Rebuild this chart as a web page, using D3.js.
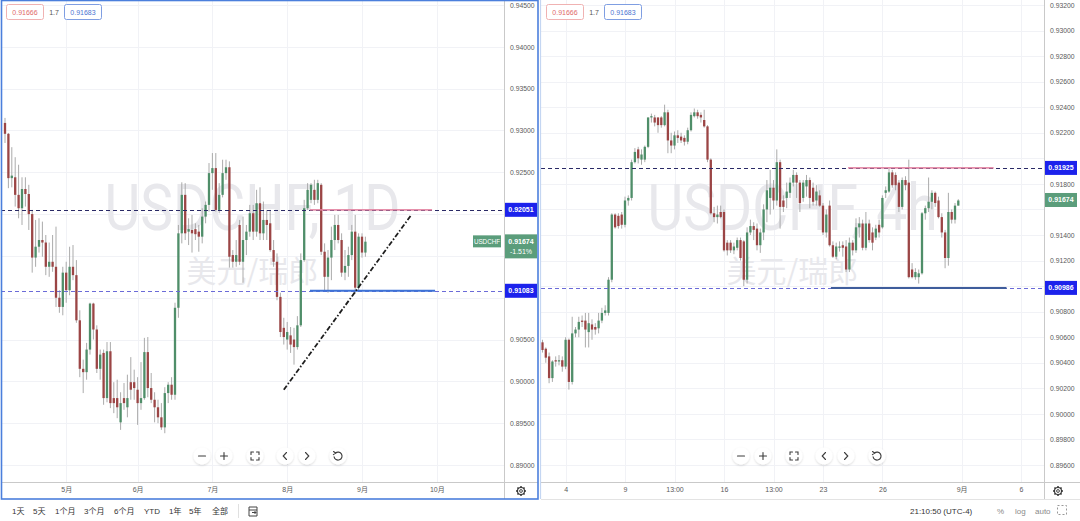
<!DOCTYPE html>
<html><head><meta charset="utf-8">
<script src="https://cdn.jsdelivr.net/npm/d3@7"></script>
<style>html,body{margin:0;padding:0;background:#fff;}svg{display:block;}</style>
</head><body>
<svg id="c" width="1080" height="521"></svg>
<script>
// ---------------- DATA ----------------
// Daily USDCHF candles [open, high, low, close]
const dailyCandles = [
[0.9309,0.9315,0.9285,0.9296],[0.9296,0.9297,0.9231,0.9243],[0.9243,0.9280,0.9232,0.9246],[0.9244,0.9268,0.9209,0.9223],
[0.9223,0.9259,0.9195,0.9207],[0.9207,0.9244,0.9187,0.9230],[0.9230,0.9244,0.9209,0.9224],[0.9224,0.9235,0.9181,0.9200],
[0.9200,0.9205,0.9130,0.9148],[0.9148,0.9193,0.9137,0.9161],[0.9161,0.9195,0.9154,0.9169],[0.9169,0.9191,0.9149,0.9166],
[0.9166,0.9175,0.9127,0.9137],[0.9137,0.9166,0.9125,0.9143],[0.9143,0.9175,0.9131,0.9137],[0.9137,0.9185,0.9089,0.9100],
[0.9100,0.9109,0.9082,0.9089],[0.9089,0.9137,0.9079,0.9130],[0.9130,0.9143,0.9094,0.9109],[0.9109,0.9161,0.9103,0.9137],
[0.9137,0.9163,0.9121,0.9127],[0.9127,0.9145,0.9070,0.9073],[0.9073,0.9085,0.9005,0.9015],[0.9015,0.9026,0.8986,0.9011],
[0.9011,0.9046,0.9002,0.9038],[0.9038,0.9094,0.9032,0.9093],[0.9093,0.9094,0.9050,0.9062],[0.9062,0.9067,0.9010,0.9015],
[0.9015,0.9038,0.9002,0.9032],[0.9034,0.9038,0.8972,0.8980],[0.8980,0.9047,0.8975,0.9036],[0.9036,0.9047,0.8968,0.8974],
[0.8980,0.8999,0.8962,0.8974],[0.8980,0.9002,0.8956,0.8969],[0.8951,0.8987,0.8942,0.8974],[0.8980,0.8998,0.8966,0.8974],
[0.8969,0.9008,0.8957,0.8980],[0.8999,0.9029,0.8978,0.8990],[0.8999,0.9014,0.8978,0.8992],[0.8990,0.9005,0.8948,0.8974],
[0.8974,0.9023,0.8966,0.8980],[0.8980,0.9052,0.8978,0.9035],[0.9035,0.9053,0.8981,0.8992],[0.8992,0.9010,0.8974,0.8978],
[0.8978,0.8987,0.8951,0.8969],[0.8969,0.8978,0.8950,0.8957],[0.8957,0.8974,0.8942,0.8945],[0.8945,0.8993,0.8938,0.8986],
[0.8986,0.8999,0.8974,0.8996],[0.8996,0.9005,0.8978,0.8984],[0.8984,0.9094,0.8978,0.9088],[0.9088,0.9187,0.9076,0.9177],
[0.9177,0.9238,0.9165,0.9223],[0.9223,0.9237,0.9169,0.9177],[0.9179,0.9195,0.9163,0.9182],[0.9181,0.9199,0.9154,0.9177],
[0.9182,0.9189,0.9169,0.9176],[0.9179,0.9187,0.9155,0.9173],[0.9173,0.9207,0.9165,0.9197],[0.9197,0.9215,0.9189,0.9211],
[0.9211,0.9261,0.9203,0.9249],[0.9249,0.9273,0.9229,0.9255],[0.9255,0.9273,0.9203,0.9205],[0.9205,0.9237,0.9201,0.9223],
[0.9223,0.9265,0.9220,0.9249],[0.9249,0.9265,0.9241,0.9256],[0.9256,0.9263,0.9136,0.9149],[0.9151,0.9157,0.9136,0.9143],
[0.9143,0.9169,0.9137,0.9151],[0.9187,0.9193,0.9139,0.9143],[0.9143,0.9197,0.9118,0.9169],[0.9169,0.9187,0.9151,0.9179],
[0.9179,0.9211,0.9173,0.9201],[0.9201,0.9211,0.9169,0.9179],[0.9179,0.9229,0.9173,0.9213],[0.9213,0.9232,0.9169,0.9177],
[0.9177,0.9215,0.9169,0.9193],[0.9193,0.9205,0.9169,0.9187],[0.9189,0.9205,0.9155,0.9157],[0.9157,0.9169,0.9137,0.9143],
[0.9143,0.9153,0.9097,0.9101],[0.9101,0.9106,0.9053,0.9059],[0.9064,0.9076,0.9044,0.9053],[0.9050,0.9071,0.9038,0.9059],
[0.9055,0.9065,0.9034,0.9044],[0.9050,0.9064,0.9020,0.9041],[0.9041,0.9078,0.9038,0.9067],[0.9067,0.9153,0.9065,0.9145],
[0.9145,0.9217,0.9143,0.9207],[0.9207,0.9237,0.9205,0.9229],[0.9217,0.9237,0.9213,0.9235],[0.9229,0.9241,0.9211,0.9217],
[0.9217,0.9241,0.9213,0.9237],[0.9235,0.9237,0.9151,0.9155],[0.9155,0.9165,0.9109,0.9125],[0.9125,0.9157,0.9106,0.9148],
[0.9148,0.9185,0.9121,0.9169],[0.9169,0.9199,0.9157,0.9187],[0.9187,0.9199,0.9165,0.9169],[0.9169,0.9177,0.9125,0.9130],
[0.9130,0.9157,0.9121,0.9138],[0.9138,0.9161,0.9125,0.9151],[0.9151,0.9187,0.9145,0.9179],[0.9179,0.9199,0.9105,0.9112],
[0.9112,0.9177,0.9107,0.9173],[0.9173,0.9177,0.9148,0.9154],[0.9154,0.9173,0.9149,0.9167]
];
const dailyTickIndex = [18, 39, 61, 83, 105, 127];
const dailyTickLabels = ["5月", "6月", "7月", "8月", "9月", "10月"];
const dailyPriceTicks = [0.890,0.895,0.900,0.905,0.910,0.915,0.920,0.925,0.930,0.935,0.940,0.945];
const dailyLevels = [0.92051, 0.91083];           // resistance, support
const dailySegResist = [89.7, 125.6];              // bar index span of pink line
const dailySegSupport = [89.7, 126.5];             // bar index span of blue line
const dailyTrend = [[82, 0.8990], [119.5, 0.9199]]; // [bar index, price]

// 4h USDCHF candles [open, high, low, close]
const h4Candles = [
[0.9056,0.9058,0.9048,0.9050],[0.9051,0.9052,0.9040,0.9044],[0.9045,0.9048,0.9024,0.9028],[0.9028,0.9042,0.9025,0.9041],
[0.9042,0.9045,0.9037,0.9041],[0.9041,0.9046,0.9038,0.9042],[0.9042,0.9045,0.9033,0.9037],[0.9037,0.9060,0.9035,0.9058],
[0.9058,0.9059,0.9019,0.9025],[0.9025,0.9076,0.9023,0.9063],[0.9063,0.9068,0.9060,0.9066],[0.9066,0.9076,0.9060,0.9072],
[0.9073,0.9077,0.9068,0.9072],[0.9073,0.9079,0.9052,0.9066],[0.9064,0.9079,0.9052,0.9071],[0.9070,0.9074,0.9058,0.9066],
[0.9068,0.9071,0.9062,0.9066],[0.9067,0.9079,0.9063,0.9073],[0.9073,0.9083,0.9071,0.9079],[0.9079,0.9085,0.9077,0.9081],
[0.9079,0.9107,0.9077,0.9105],[0.9105,0.9157,0.9103,0.9156],[0.9156,0.9157,0.9145,0.9146],[0.9155,0.9157,0.9145,0.9147],
[0.9156,0.9158,0.9145,0.9148],[0.9148,0.9170,0.9146,0.9167],[0.9167,0.9171,0.9163,0.9169],[0.9169,0.9199,0.9167,0.9197],
[0.9197,0.9208,0.9196,0.9205],[0.9207,0.9209,0.9196,0.9200],[0.9199,0.9207,0.9195,0.9203],[0.9199,0.9210,0.9197,0.9209],
[0.9209,0.9232,0.9208,0.9232],[0.9232,0.9235,0.9228,0.9233],[0.9232,0.9234,0.9225,0.9228],[0.9232,0.9232,0.9220,0.9226],
[0.9232,0.9233,0.9224,0.9226],[0.9226,0.9242,0.9225,0.9236],[0.9236,0.9238,0.9204,0.9214],[0.9214,0.9220,0.9204,0.9210],
[0.9210,0.9221,0.9207,0.9218],[0.9218,0.9222,0.9212,0.9216],[0.9217,0.9220,0.9212,0.9214],[0.9216,0.9218,0.9210,0.9213],
[0.9213,0.9224,0.9211,0.9222],[0.9222,0.9236,0.9221,0.9234],[0.9233,0.9239,0.9232,0.9236],[0.9236,0.9238,0.9231,0.9233],
[0.9234,0.9236,0.9228,0.9232],[0.9230,0.9238,0.9224,0.9225],[0.9225,0.9226,0.9197,0.9199],[0.9199,0.9200,0.9156,0.9157],
[0.9157,0.9162,0.9150,0.9154],[0.9154,0.9163,0.9149,0.9156],[0.9158,0.9163,0.9153,0.9154],[0.9158,0.9160,0.9127,0.9128],
[0.9134,0.9136,0.9124,0.9128],[0.9134,0.9136,0.9126,0.9128],[0.9128,0.9134,0.9125,0.9131],[0.9130,0.9138,0.9128,0.9136],
[0.9136,0.9138,0.9120,0.9122],[0.9135,0.9136,0.9100,0.9105],[0.9105,0.9146,0.9102,0.9142],[0.9142,0.9152,0.9140,0.9147],
[0.9147,0.9150,0.9136,0.9144],[0.9145,0.9149,0.9128,0.9132],[0.9132,0.9145,0.9126,0.9142],[0.9142,0.9164,0.9136,0.9160],
[0.9160,0.9183,0.9150,0.9175],[0.9169,0.9191,0.9156,0.9177],[0.9177,0.9183,0.9160,0.9167],[0.9167,0.9207,0.9163,0.9197],
[0.9197,0.9199,0.9145,0.9162],[0.9167,0.9171,0.9158,0.9162],[0.9169,0.9181,0.9161,0.9174],[0.9173,0.9185,0.9169,0.9181],
[0.9181,0.9191,0.9178,0.9187],[0.9187,0.9189,0.9169,0.9181],[0.9181,0.9183,0.9158,0.9165],[0.9169,0.9183,0.9166,0.9181],
[0.9178,0.9187,0.9170,0.9183],[0.9183,0.9185,0.9161,0.9169],[0.9177,0.9181,0.9163,0.9166],[0.9167,0.9179,0.9163,0.9174],
[0.9171,0.9175,0.9162,0.9163],[0.9163,0.9165,0.9140,0.9142],[0.9142,0.9160,0.9138,0.9156],[0.9163,0.9167,0.9131,0.9132],
[0.9132,0.9135,0.9122,0.9123],[0.9123,0.9134,0.9121,0.9131],[0.9130,0.9135,0.9127,0.9131],[0.9132,0.9135,0.9123,0.9130],
[0.9131,0.9136,0.9111,0.9113],[0.9113,0.9138,0.9111,0.9134],[0.9134,0.9136,0.9124,0.9128],[0.9128,0.9153,0.9126,0.9146],
[0.9146,0.9154,0.9138,0.9149],[0.9149,0.9152,0.9128,0.9130],[0.9130,0.9158,0.9128,0.9149],[0.9149,0.9152,0.9134,0.9136],
[0.9142,0.9146,0.9128,0.9134],[0.9138,0.9148,0.9136,0.9145],[0.9148,0.9152,0.9138,0.9142],[0.9146,0.9171,0.9145,0.9169],
[0.9173,0.9178,0.9169,0.9175],[0.9174,0.9192,0.9173,0.9189],[0.9189,0.9191,0.9177,0.9179],[0.9187,0.9189,0.9175,0.9179],
[0.9181,0.9183,0.9158,0.9162],[0.9162,0.9185,0.9160,0.9183],[0.9183,0.9186,0.9175,0.9179],[0.9181,0.9199,0.9106,0.9107],
[0.9113,0.9118,0.9106,0.9107],[0.9107,0.9114,0.9105,0.9111],[0.9107,0.9113,0.9102,0.9110],[0.9110,0.9158,0.9109,0.9157],
[0.9157,0.9163,0.9152,0.9161],[0.9161,0.9185,0.9158,0.9166],[0.9166,0.9175,0.9160,0.9173],[0.9173,0.9174,0.9162,0.9165],
[0.9167,0.9170,0.9153,0.9154],[0.9154,0.9157,0.9138,0.9142],[0.9142,0.9144,0.9114,0.9122],[0.9122,0.9173,0.9116,0.9158],
[0.9158,0.9160,0.9149,0.9152],[0.9152,0.9165,0.9149,0.9163],[0.9163,0.9168,0.9163,0.9167]
];
const h4TickIndex = [7, 25, 40, 55, 70, 85, 103, 127, 145];
const h4TickLabels = ["4", "9", "13:00", "16", "13:00", "23", "26", "9月", "6"];
const h4PriceTicks = [0.896,0.898,0.900,0.902,0.904,0.906,0.908,0.910,0.912,0.914,0.916,0.918,0.920,0.922,0.924,0.926,0.928,0.930,0.932];
const h4Levels = [0.91925, 0.90986];
const h4SegResist = [92.6, 136.7];
const h4SegSupport = [87.4, 140.6];

const lastPrice = 0.91674;
const changeText = "-1.51%";
const legendValues = ["0.91666", "1.7", "0.91683"];
const rangeButtons = ["1天", "5天", "1个月", "3个月", "6个月", "YTD", "1年", "5年", "全部"];

// ---------------- DRAWING ----------------
const FONT = "'Liberation Sans','Noto Sans CJK SC',Arial,sans-serif";
const CJK = "'Noto Sans CJK SC','Liberation Sans',sans-serif";
const GREEN = "#4f8e69", RED = "#9b4545", WICK = "#a2a2a2";
const svg = d3.select("#c");
const defs = svg.append("defs");
defs.append("filter").attr("id","sh").attr("x","-50%").attr("y","-50%").attr("width","200%").attr("height","200%")
  .append("feDropShadow").attr("dx",0).attr("dy",1).attr("stdDeviation",1.3)
  .attr("flood-color","#000").attr("flood-opacity",0.16);

function drawPanel(cfg) {
  const g = svg.append("g");
  const x = d3.scaleLinear().domain([0, 100]).range(cfg.xRange);
  const y = d3.scaleLinear().domain(cfg.yDomain).range(cfg.yRange);
  const {px0, px1, py0, py1} = cfg;
  defs.append("clipPath").attr("id", cfg.id + "clip").append("rect")
    .attr("x", px0).attr("y", py0).attr("width", px1 - px0).attr("height", py1 - py0);
  const plot = g.append("g").attr("clip-path", `url(#${cfg.id}clip)`);

  // grid
  plot.selectAll("line.hg").data(cfg.priceTicks).join("line").attr("class","hg")
    .attr("x1", px0).attr("x2", px1)
    .attr("y1", d => Math.round(y(d)) + 0.5).attr("y2", d => Math.round(y(d)) + 0.5)
    .attr("stroke", "#f1f2f6").attr("stroke-width", 1);
  plot.selectAll("line.vg").data(cfg.tickIndex).join("line").attr("class","vg")
    .attr("x1", d => Math.round(x(d)) + 0.5).attr("x2", d => Math.round(x(d)) + 0.5)
    .attr("y1", py0).attr("y2", py1)
    .attr("stroke", "#f1f2f6").attr("stroke-width", 1);

  // watermark
  const cx = (px0 + px1) / 2;
  plot.append("text").attr("x", cx).attr("y", 230).attr("text-anchor", "middle")
    .attr("font-family", "Roboto,'Liberation Sans',sans-serif").attr("font-size", 64)
    .attr("textLength", cfg.wmWidth).attr("lengthAdjust", "spacingAndGlyphs")
    .attr("fill", "#e8e8ec").text(cfg.watermark);
  plot.append("text").attr("x", cx).attr("y", 282).attr("text-anchor", "middle")
    .attr("font-family", CJK).attr("font-size", 30).attr("fill", "#e8e8ec").text("美元/瑞郎");

  // candles
  const bw = 2.3;
  plot.selectAll("line.wick").data(cfg.candles).join("line").attr("class","wick")
    .attr("x1", (d, i) => x(i)).attr("x2", (d, i) => x(i))
    .attr("y1", d => y(d[1])).attr("y2", d => y(d[2]))
    .attr("stroke", WICK).attr("stroke-width", 0.9);
  plot.selectAll("rect.body").data(cfg.candles).join("rect").attr("class","body")
    .attr("x", (d, i) => x(i) - bw / 2).attr("width", bw)
    .attr("y", d => y(Math.max(d[0], d[3])))
    .attr("height", d => Math.max(1, Math.abs(y(d[0]) - y(d[3]))))
    .attr("fill", d => d[3] >= d[0] ? GREEN : RED);

  // horizontal dashed levels
  const dashCol = ["#2a2a66", "#6b6bd8"];
  plot.selectAll("line.lvl").data(cfg.levels).join("line").attr("class","lvl")
    .attr("x1", px0).attr("x2", px1)
    .attr("y1", d => Math.round(y(d)) + 0.5).attr("y2", d => Math.round(y(d)) + 0.5)
    .attr("stroke", (d, i) => dashCol[i]).attr("stroke-width", 1).attr("stroke-dasharray", "4,3");
  // drawn segments
  plot.append("line").attr("x1", x(cfg.segResist[0])).attr("x2", x(cfg.segResist[1]))
    .attr("y1", y(cfg.levels[0])).attr("y2", y(cfg.levels[0]))
    .attr("stroke", "#e27d9c").attr("stroke-width", 1.6).attr("stroke-opacity", 0.85);
  plot.append("line").attr("x1", x(cfg.segSupport[0])).attr("x2", x(cfg.segSupport[1]))
    .attr("y1", y(cfg.levels[1])).attr("y2", y(cfg.levels[1]))
    .attr("stroke", cfg.supportColor).attr("stroke-width", 2);
  if (cfg.trend) {
    plot.append("line").attr("x1", x(cfg.trend[0][0])).attr("y1", y(cfg.trend[0][1]))
      .attr("x2", x(cfg.trend[1][0])).attr("y2", y(cfg.trend[1][1]))
      .attr("stroke", "#1e1e1e").attr("stroke-width", 1.8).attr("stroke-dasharray", "5,2,1.5,2");
  }

  // price axis: labels hidden where a price box covers them
  const covered = [];
  cfg.levels.forEach(v => covered.push([y(v) - 7, y(v) + 7]));
  covered.push([y(lastPrice) - 7, y(lastPrice) + (cfg.showChange ? 17 : 7)]);
  const visibleTicks = cfg.priceTicks.filter(t => {
    const yy = y(t);
    return !covered.some(([a, b]) => yy + 3.5 > a && yy - 3.5 < b);
  });
  const ya = g.append("g").attr("transform", `translate(${px1},0)`)
    .call(d3.axisRight(y).tickValues(visibleTicks).tickFormat(d3.format(".5f")).tickSize(0).tickPadding(6));
  ya.select(".domain").remove();
  ya.selectAll("text").attr("font-family", FONT).attr("font-size", 6.8).attr("fill", "#5a5a5a");
  // time axis
  const xa = g.append("g").attr("transform", `translate(0,${py1})`)
    .call(d3.axisBottom(x).tickValues(cfg.tickIndex).tickFormat((d, i) => cfg.tickLabels[i]).tickSize(0).tickPadding(5));
  xa.select(".domain").remove();
  xa.selectAll("text").attr("font-family", FONT).attr("font-size", 7).attr("fill", "#5a5a5a");

  // axis separators
  g.append("line").attr("x1", px1 + 0.5).attr("x2", px1 + 0.5).attr("y1", 0).attr("y2", 499)
    .attr("stroke", "#c9c9c9").attr("stroke-width", 1);
  g.append("line").attr("x1", px0).attr("x2", cfg.axisRight).attr("y1", py1 + 0.5).attr("y2", py1 + 0.5)
    .attr("stroke", "#c9c9c9").attr("stroke-width", 1);

  // level price boxes
  cfg.levels.forEach(v => {
    const yy = y(v);
    g.append("rect").attr("x", px1 + 1).attr("y", yy - 7).attr("width", 32).attr("height", 14).attr("fill", "#1c22ec");
    g.append("text").attr("x", px1 + 17).attr("y", yy + 2.5).attr("text-anchor", "middle")
      .attr("font-family", FONT).attr("font-size", 7).attr("font-weight", "bold").attr("fill", "#fff")
      .text(d3.format(".5f")(v));
  });
  // last price box
  const ly = y(lastPrice);
  const two = cfg.showChange;
  g.append("rect").attr("x", px1 + 1).attr("y", ly - 7).attr("width", 32).attr("height", two ? 24 : 14).attr("fill", "#5b9d7b");
  g.append("text").attr("x", px1 + 17).attr("y", ly + 2.5).attr("text-anchor", "middle")
    .attr("font-family", FONT).attr("font-size", 7).attr("font-weight", "bold").attr("fill", "#fff").text(d3.format(".5f")(lastPrice));
  if (two) {
    g.append("text").attr("x", px1 + 17).attr("y", ly + 12.5).attr("text-anchor", "middle")
      .attr("font-family", FONT).attr("font-size", 7).attr("fill", "#fff").text(changeText);
    g.append("rect").attr("x", px1 - 31).attr("y", ly - 6).attr("width", 28).attr("height", 12).attr("fill", "#5b9d7b");
    g.append("text").attr("x", px1 - 17).attr("y", ly + 2.3).attr("text-anchor", "middle")
      .attr("font-family", FONT).attr("font-size", 6.3).attr("fill", "#fff").text("USDCHF");
  }

  // legend
  const lx = px0 + 5;
  g.append("rect").attr("x", lx + 0.5).attr("y", 4.5).attr("width", 37).attr("height", 15).attr("rx", 2)
    .attr("fill", "#fff").attr("stroke", "#f0b2b2");
  g.append("text").attr("x", lx + 19).attr("y", 14.5).attr("text-anchor", "middle").attr("font-family", FONT)
    .attr("font-size", 7).attr("fill", "#e06a6a").text(legendValues[0]);
  g.append("text").attr("x", lx + 48).attr("y", 14.5).attr("text-anchor", "middle").attr("font-family", FONT)
    .attr("font-size", 7).attr("fill", "#555").text(legendValues[1]);
  g.append("rect").attr("x", lx + 58.5).attr("y", 4.5).attr("width", 37).attr("height", 15).attr("rx", 2)
    .attr("fill", "#fff").attr("stroke", "#7f9ee2");
  g.append("text").attr("x", lx + 77).attr("y", 14.5).attr("text-anchor", "middle").attr("font-family", FONT)
    .attr("font-size", 7).attr("fill", "#4b74d2").text(legendValues[2]);

  // navigation buttons
  const bx = cfg.buttons, by = 456;
  const bg = g.append("g").attr("stroke", "#3c3c3c").attr("stroke-width", 1.1).attr("fill", "none").attr("stroke-linecap", "round");
  bx.forEach(b => bg.append("circle").attr("cx", b).attr("cy", by).attr("r", 8.5)
    .attr("fill", "#fff").attr("stroke", "none").attr("filter", "url(#sh)"));
  bg.append("path").attr("d", `M${bx[0]-3.5},${by}H${bx[0]+3.5}`);
  bg.append("path").attr("d", `M${bx[1]-3.5},${by}H${bx[1]+3.5}M${bx[1]},${by-3.5}V${by+3.5}`);
  const f = bx[2];
  bg.append("path").attr("d",
    `M${f-4},${by-1.5}V${by-4}H${f-1.5}M${f+1.5},${by-4}H${f+4}V${by-1.5}M${f+4},${by+1.5}V${by+4}H${f+1.5}M${f-1.5},${by+4}H${f-4}V${by+1.5}`);
  bg.append("path").attr("d", `M${bx[3]+1.5},${by-3.5}L${bx[3]-1.8},${by}L${bx[3]+1.5},${by+3.5}`);
  bg.append("path").attr("d", `M${bx[4]-1.5},${by-3.5}L${bx[4]+1.8},${by}L${bx[4]-1.5},${by+3.5}`);
  const r = bx[5];
  bg.append("path").attr("d", `M${r-2.5},${by-3}A4,4 0 1 1 ${r-3.9},${by+0.8}`);
  bg.append("path").attr("d", `M${r-4.5},${by-4.5}L${r-2.3},${by-2.9}L${r-4.6},${by-1.4}`);

  // gear
  const gx = cfg.gear, gy = 491;
  const gg = g.append("g").attr("stroke", "#333").attr("fill", "none");
  d3.range(8).forEach(k => {
    const a = k * Math.PI / 4;
    gg.append("line").attr("x1", gx + 3.3 * Math.cos(a)).attr("y1", gy + 3.3 * Math.sin(a))
      .attr("x2", gx + 5 * Math.cos(a)).attr("y2", gy + 5 * Math.sin(a)).attr("stroke-width", 1.5);
  });
  gg.append("circle").attr("cx", gx).attr("cy", gy).attr("r", 3.5).attr("fill", "#fff").attr("stroke-width", 1.1);
  gg.append("circle").attr("cx", gx).attr("cy", gy).attr("r", 1.4).attr("stroke-width", 0.9);
}

drawPanel({
  id: "d", candles: dailyCandles, xRange: [5, 345], yDomain: [0.945, 0.890], yRange: [5, 465],
  px0: 1, px1: 504, py0: 0, py1: 482, axisRight: 538,
  priceTicks: dailyPriceTicks, tickIndex: dailyTickIndex, tickLabels: dailyTickLabels,
  levels: dailyLevels, segResist: dailySegResist, segSupport: dailySegSupport, supportColor: "#3d72d6",
  trend: dailyTrend, watermark: "USDCHF, 1D", wmWidth: 296, showChange: true,
  buttons: [202, 224, 255, 285, 307, 338], gear: 521
});
drawPanel({
  id: "h", candles: h4Candles, xRange: [542.5, 872.5], yDomain: [0.932, 0.896], yRange: [5, 465],
  px0: 541, px1: 1044, py0: 0, py1: 482, axisRight: 1080,
  priceTicks: h4PriceTicks, tickIndex: h4TickIndex, tickLabels: h4TickLabels,
  levels: h4Levels, segResist: h4SegResist, segSupport: h4SegSupport, supportColor: "#3f5d9c",
  trend: null, watermark: "USDCHF, 4h", wmWidth: 290, showChange: false,
  buttons: [741, 763, 794, 824, 846, 877], gear: 1058
});

// panel borders
svg.append("rect").attr("x", 1.5).attr("y", 0.5).attr("width", 536.5).attr("height", 498.5)
  .attr("fill", "none").attr("stroke", "#4b7fdc").attr("stroke-width", 1.6);
svg.append("line").attr("x1", 540.5).attr("x2", 540.5).attr("y1", 0).attr("y2", 499)
  .attr("stroke", "#c4d6f2").attr("stroke-width", 1.2);
svg.append("line").attr("x1", 541).attr("x2", 1080).attr("y1", 499.5).attr("y2", 499.5)
  .attr("stroke", "#e3e3e3").attr("stroke-width", 1);

// bottom toolbar
const tb = svg.append("g").attr("font-family", FONT).attr("font-size", 8).attr("fill", "#333");
const tbX = [12, 33, 55, 84, 114, 144, 169, 189, 212];
rangeButtons.forEach((t, i) => tb.append("text").attr("x", tbX[i]).attr("y", 514).text(t));
tb.append("line").attr("x1", 238.5).attr("x2", 238.5).attr("y1", 504).attr("y2", 518).attr("stroke", "#e0e0e0");
const ic = tb.append("g").attr("stroke", "#444").attr("fill", "none").attr("stroke-width", 1);
ic.append("path").attr("d", "M249,507H257V516H249Z M249,510H257 M252,512.5H256 M254.5,511L256,512.5L254.5,514");
tb.append("text").attr("x", 910).attr("y", 514).text("21:10:50 (UTC-4)");
const tr = svg.append("g").attr("font-family", FONT).attr("font-size", 8).attr("fill", "#8a8a8a");
tr.append("text").attr("x", 997).attr("y", 514).text("%");
tr.append("text").attr("x", 1015).attr("y", 514).text("log");
tr.append("text").attr("x", 1035).attr("y", 514).text("auto");
tr.append("rect").attr("x", 1057.5).attr("y", 505.5).attr("width", 9).attr("height", 9)
  .attr("fill", "none").attr("stroke", "#999").attr("stroke-dasharray", "2,2");
</script>
</body></html>
